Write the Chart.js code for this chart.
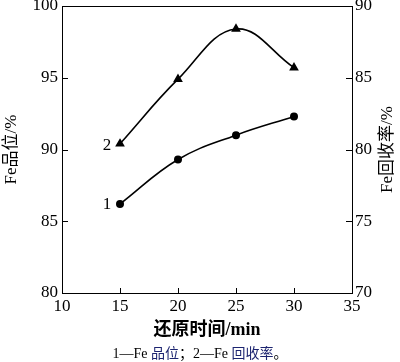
<!DOCTYPE html>
<html>
<head>
<meta charset="utf-8">
<script src="https://cdn.jsdelivr.net/npm/chart.js@4"></script>
<style>
  html, body { margin: 0; padding: 0; background: #fff; }
  #wrap { position: relative; width: 400px; height: 362px; }
  #cap {
    position: absolute; left: 0; width: 400px; top: 342px; text-align: center;
    font: 14px 'Liberation Serif', 'Noto Sans CJK SC', serif; color: #000; white-space: nowrap;
  }
  #cap .zh { color: #1c2470; }
</style>
</head>
<body>
<div id="wrap">
  <canvas id="c" width="400" height="362"></canvas>
  <div id="cap">1—Fe <span class="zh">品位</span>；2—Fe <span class="zh">回收率</span>。</div>
</div>
<script>
// 还原时间 vs Fe 品位 / 回收率
const times = [15, 20, 25, 30];
const gradeVals = [86.2, 89.3, 91.0, 92.3];      // 1 — Fe品位/% (left)
const recoveryVals = [80.4, 84.9, 88.4, 85.7];   // 2 — Fe回收率/% (right)
const xTicks = [10, 15, 20, 25, 30, 35];
const leftTicks = [80, 85, 90, 95, 100];
const rightTicks = [70, 75, 80, 85, 90];

const serif = "'Liberation Serif', 'Noto Sans CJK SC', serif";
const tickFont = { family: serif, size: 17 };

// fixed axis sizes, no extra padding for overflowing labels
const fixSize = (w, h) => s => {
  if (w) s.width = w;
  if (h) s.height = h;
  s.paddingTop = 0; s.paddingBottom = 0; s.paddingLeft = 0; s.paddingRight = 0;
};

// inward tick marks, frame, axis titles and curve labels
const decor = {
  id: 'decor',
  afterDraw(chart) {
    const { ctx, chartArea: a, scales } = chart;
    ctx.save();
    ctx.strokeStyle = '#000';
    ctx.lineWidth = 1;
    ctx.strokeRect(a.left + 0.5, a.top + 0.5, a.right - a.left, a.bottom - a.top);
    ctx.beginPath();
    xTicks.forEach(v => {
      const px = Math.round(scales.x.getPixelForValue(v)) + 0.5;
      ctx.moveTo(px, a.bottom); ctx.lineTo(px, a.bottom - 5);
    });
    leftTicks.forEach(v => {
      const py = Math.round(scales.y.getPixelForValue(v)) + 0.5;
      ctx.moveTo(a.left, py); ctx.lineTo(a.left + 6, py);
    });
    rightTicks.forEach(v => {
      const py = Math.round(scales.y1.getPixelForValue(v)) + 0.5;
      ctx.moveTo(a.right, py); ctx.lineTo(a.right - 6, py);
    });
    ctx.stroke();

    ctx.fillStyle = '#000';
    ctx.textAlign = 'center';
    ctx.textBaseline = 'middle';
    const midY = (a.top + a.bottom) / 2;
    ctx.font = '17px ' + serif;
    [[12, 'Fe品位/%'], [388, 'Fe回收率/%']].forEach(([x, t]) => {
      ctx.save();
      ctx.translate(x, midY);
      ctx.rotate(-Math.PI / 2);
      ctx.fillText(t, 0, 0);
      ctx.restore();
    });
    ctx.font = 'bold 18px ' + serif;
    ctx.fillText('还原时间/min', (a.left + a.right) / 2, 330);

    // curve numbers beside the first point
    ctx.font = '17px ' + serif;
    const x0 = scales.x.getPixelForValue(times[0]) - 13;
    ctx.fillText('1', x0, scales.y.getPixelForValue(gradeVals[0]) + 1);
    ctx.fillText('2', x0, scales.y1.getPixelForValue(recoveryVals[0]) + 2);
    ctx.restore();
  }
};

new Chart(document.getElementById('c'), {
  type: 'line',
  data: {
    datasets: [
      {
        label: 'Fe品位', yAxisID: 'y',
        data: times.map((t, i) => ({ x: t, y: gradeVals[i] })),
        borderColor: '#000', backgroundColor: '#000', borderWidth: 1.6,
        pointStyle: 'circle', pointRadius: 3.2, tension: 0.4
      },
      {
        label: 'Fe回收率', yAxisID: 'y1',
        data: times.map((t, i) => ({ x: t, y: recoveryVals[i] })),
        borderColor: '#000', backgroundColor: '#000', borderWidth: 1.6,
        pointStyle: 'triangle', pointRadius: 4, tension: 0.4
      }
    ]
  },
  options: {
    responsive: false,
    animation: false,
    layout: { padding: { top: 6, bottom: 22, left: 0, right: 0 } },
    plugins: { legend: { display: false }, tooltip: { enabled: false } },
    scales: {
      x: {
        type: 'linear', min: 10, max: 35,
        afterBuildTicks: s => { s.ticks = xTicks.map(v => ({ value: v })); },
        afterFit: fixSize(0, 47),
        grid: { display: false, drawTicks: false },
        border: { display: false },
        ticks: { font: tickFont, color: '#000', padding: 3, maxRotation: 0 }
      },
      y: {
        position: 'left', min: 80, max: 100,
        afterBuildTicks: s => { s.ticks = leftTicks.map(v => ({ value: v })); },
        afterFit: fixSize(62, 0),
        grid: { display: false, drawTicks: false },
        border: { display: false },
        ticks: { font: tickFont, color: '#000', padding: 4 }
      },
      y1: {
        position: 'right', min: 70, max: 90,
        afterBuildTicks: s => { s.ticks = rightTicks.map(v => ({ value: v })); },
        afterFit: fixSize(48, 0),
        grid: { display: false, drawTicks: false },
        border: { display: false },
        ticks: { font: tickFont, color: '#000', padding: 3 }
      }
    }
  },
  plugins: [decor]
});
</script>
</body>
</html>
